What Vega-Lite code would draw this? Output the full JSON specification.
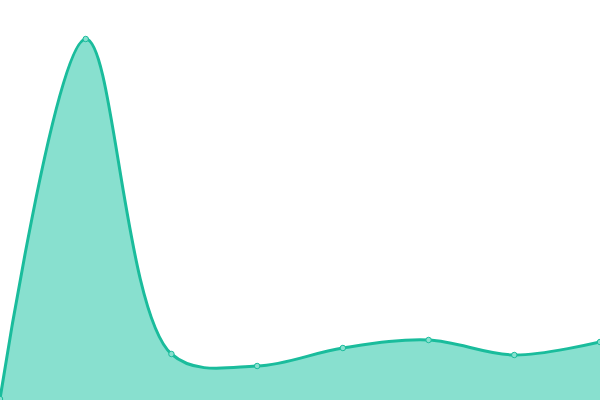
{
  "$schema": "https://vega.github.io/schema/vega-lite/v6.json",
  "width": 600,
  "height": 400,
  "autosize": {"type": "none"},
  "padding": 0,
  "background": "white",
  "view": {"stroke": null},
  "data": {"values": [
    {"i": 0, "v": 1},
    {"i": 1, "v": 361},
    {"i": 2, "v": 46},
    {"i": 3, "v": 34},
    {"i": 4, "v": 52},
    {"i": 5, "v": 60},
    {"i": 6, "v": 45},
    {"i": 7, "v": 58}
  ]},
  "encoding": {
    "x": {"field": "i", "type": "quantitative", "scale": {"domain": [0, 7], "nice": false, "zero": false}, "axis": null},
    "y": {"field": "v", "type": "quantitative", "scale": {"domain": [0, 400], "nice": false}, "axis": null}
  },
  "layer": [
    {"mark": {"type": "area", "interpolate": "catmull-rom", "color": "#88e0cf", "opacity": 1}},
    {"mark": {"type": "line", "interpolate": "catmull-rom", "color": "#1abc9c", "strokeWidth": 3}},
    {"mark": {"type": "point", "filled": true, "fill": "#88e0cf", "stroke": "#1abc9c", "strokeWidth": 1, "size": 30, "opacity": 1}}
  ]
}
